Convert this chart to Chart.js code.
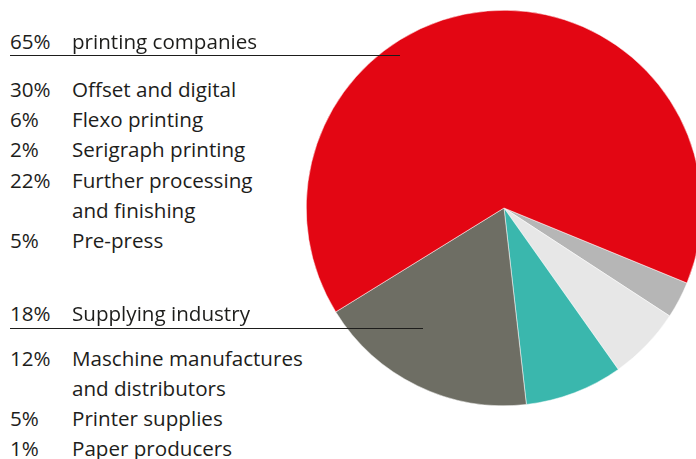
<!DOCTYPE html>
<html>
<head>
<meta charset="utf-8">
<script src="https://cdn.jsdelivr.net/npm/chart.js@4.4.0/dist/chart.umd.min.js"></script>
<style>
  html, body { margin: 0; padding: 0; width: 696px; height: 459px; overflow: hidden; background: #fff; }
  #wrap { position: absolute; left: 306px; top: 10px; width: 396px; height: 396px; }
  .row { position: absolute; left: 10px; font-family: "Open Sans", sans-serif; font-size: 20.6px; color: #1d1d1b; white-space: nowrap; line-height: 20px; }
  .pct { position: absolute; left: 0; }
  .txt { position: absolute; left: 62px; }
  .rule { position: absolute; left: 10px; height: 1.3px; background: #1d1d1b; }
</style>
</head>
<body>
<div id="wrap"><canvas id="c" width="396" height="396"></canvas></div>
<div id="text"></div>
<script>
// Pie slices (clockwise from the start angle)
const sliceLabels = ["Other printing", "Pre-press share", "Further share", "Supplying industry", "printing companies"];
const sliceValues = [3, 6, 8, 18, 65];
const sliceColors = ["#b6b6b6", "#e7e7e7", "#3ab7ad", "#6e6e64", "#e30613"];

// Text list, section 1
const headPct1 = "65%";
const headTxt1 = "printing companies";
const sub1Pct = ["30%", "6%", "2%", "22%", "", "5%"];
const sub1Txt = ["Offset and digital", "Flexo printing", "Serigraph printing", "Further processing", "and finishing", "Pre-press"];

// Text list, section 2
const headPct2 = "18%";
const headTxt2 = "Supplying industry";
const sub2Pct = ["12%", "", "5%", "1%"];
const sub2Txt = ["Maschine manufactures", "and distributors", "Printer supplies", "Paper producers"];

new Chart(document.getElementById('c'), {
  type: 'pie',
  data: {
    labels: sliceLabels,
    datasets: [{ data: sliceValues, backgroundColor: sliceColors, borderColor: '#ffffff', borderWidth: 0.5 }]
  },
  options: {
    responsive: false,
    animation: false,
    rotation: 112.3,
    layout: { padding: 0 },
    plugins: { legend: { display: false }, tooltip: { enabled: false } }
  }
});

const host = document.getElementById('text');
function addRow(pct, txt, baseline) {
  const d = document.createElement('div');
  d.className = 'row';
  d.style.top = (baseline - 18) + 'px';
  d.innerHTML = '<span class="pct"></span><span class="txt"></span>';
  d.children[0].textContent = pct;
  d.children[1].textContent = txt;
  host.appendChild(d);
}
function addRule(y, w) {
  const r = document.createElement('div');
  r.className = 'rule';
  r.style.top = y + 'px';
  r.style.width = w + 'px';
  host.appendChild(r);
}
addRow(headPct1, headTxt1, 48.7);
addRule(55.2, 390);
sub1Txt.forEach((t, i) => addRow(sub1Pct[i], t, 96.7 + i * 30.3));
addRow(headPct2, headTxt2, 320.7);
addRule(327.8, 413);
sub2Txt.forEach((t, i) => addRow(sub2Pct[i], t, 366 + i * 30.1));
</script>
</body>
</html>
